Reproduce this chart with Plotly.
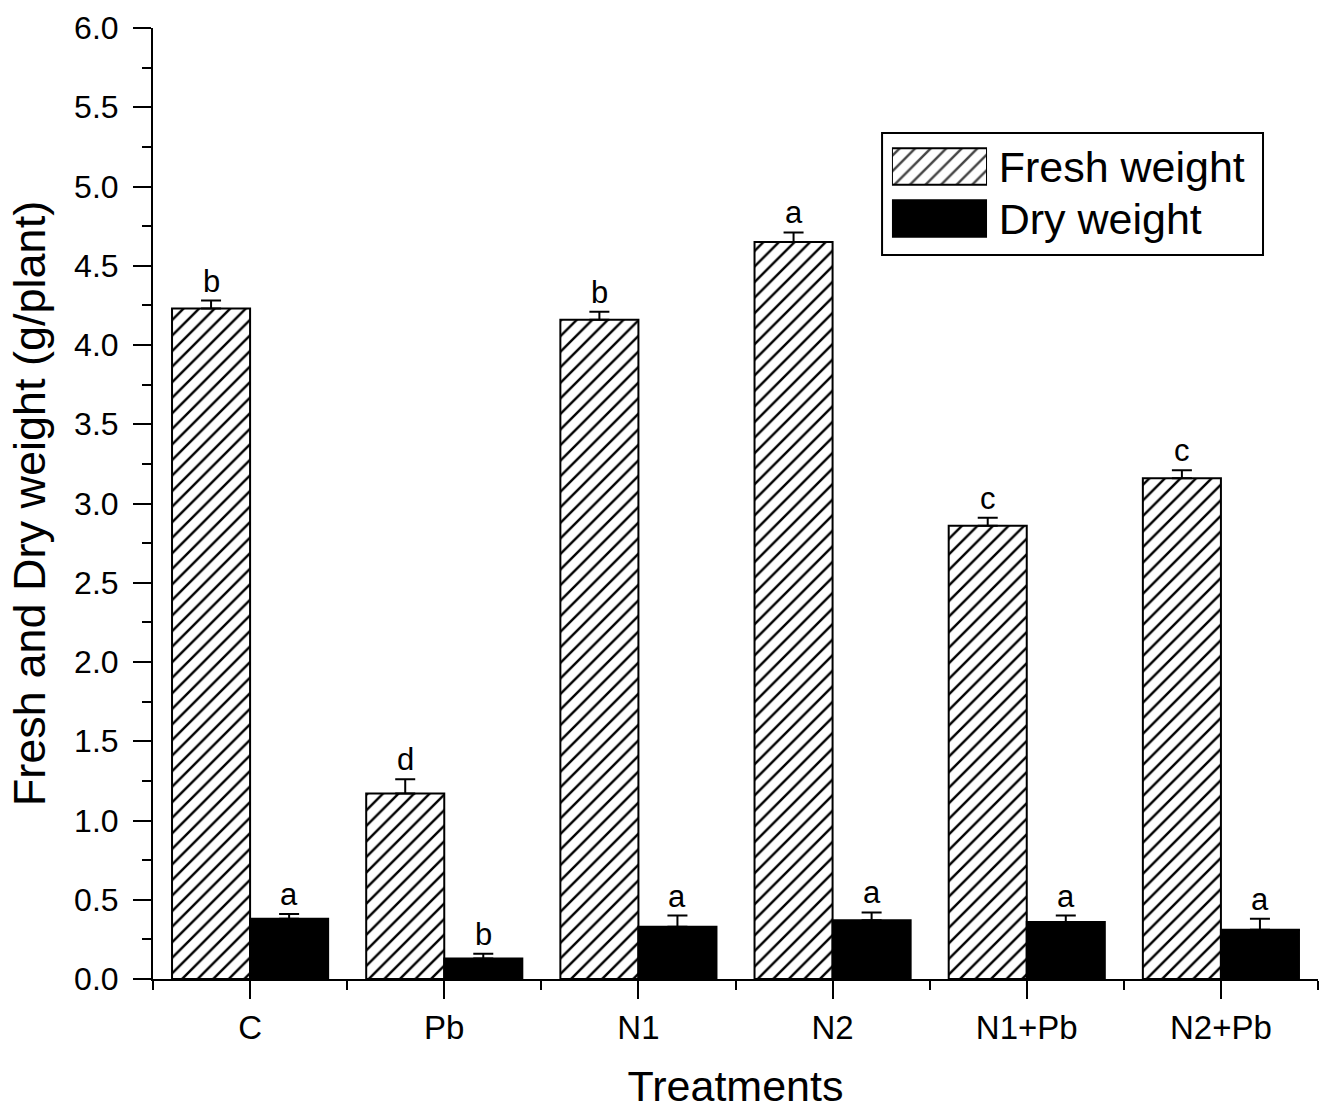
import plotly.graph_objects as go

# ---- data ----
categories = ["C", "Pb", "N1", "N2", "N1+Pb", "N2+Pb"]
fresh_weight = [4.23, 1.17, 4.16, 4.65, 2.86, 3.16]
fresh_err = [0.05, 0.09, 0.05, 0.06, 0.05, 0.05]
dry_weight = [0.38, 0.13, 0.33, 0.37, 0.36, 0.31]
dry_err = [0.03, 0.03, 0.07, 0.05, 0.04, 0.07]
fresh_letters = ["b", "d", "b", "a", "c", "c"]
dry_letters = ["a", "b", "a", "a", "a", "a"]
series_names = ["Fresh weight", "Dry weight"]
y_ticks = [0.0, 0.5, 1.0, 1.5, 2.0, 2.5, 3.0, 3.5, 4.0, 4.5, 5.0, 5.5, 6.0]

FONT = "Liberation Sans, Arial, sans-serif"
BARGAP = 0.196
xpos = list(range(len(categories)))
half = (1 - BARGAP) / 4  # offset of each bar centre within group

HATCH = dict(shape="/", fgcolor="black", bgcolor="white", size=11,
             solidity=0.22, fgopacity=1)

fig = go.Figure()
fig.add_trace(go.Bar(
    x=xpos, y=fresh_weight, name=series_names[0],
    marker=dict(color="white", line=dict(color="black", width=2), pattern=HATCH),
    error_y=dict(type="data", array=fresh_err, symmetric=False,
                 arrayminus=[0] * len(fresh_err), color="black",
                 thickness=2, width=10),
    showlegend=False,
))
fig.add_trace(go.Bar(
    x=xpos, y=dry_weight, name=series_names[1],
    marker=dict(color="black", line=dict(color="black", width=2)),
    error_y=dict(type="data", array=dry_err, symmetric=False,
                 arrayminus=[0] * len(dry_err), color="black",
                 thickness=2, width=10),
    showlegend=False,
))

# significance letters
for i, c in enumerate(categories):
    fig.add_annotation(x=xpos[i] - half, y=fresh_weight[i] + fresh_err[i],
                       text=fresh_letters[i], showarrow=False, yanchor="bottom",
                       yshift=0, font=dict(size=31, color="black", family=FONT))
    fig.add_annotation(x=xpos[i] + half, y=dry_weight[i] + dry_err[i],
                       text=dry_letters[i], showarrow=False, yanchor="bottom",
                       yshift=0, font=dict(size=31, color="black", family=FONT))

# custom legend as a mini bar chart (big swatches like the original)
fig.add_trace(go.Bar(
    y=series_names, x=[1, 1], orientation="h", xaxis="x2", yaxis="y2",
    width=0.7, text=["\u2009" + s for s in series_names], textposition="outside",
    cliponaxis=False, constraintext="none", textangle=0,
    textfont=dict(size=43, color="black", family=FONT),
    marker=dict(color=["white", "black"], line=dict(color="black", width=2),
                pattern=dict(shape=["/", ""], fgcolor="black", bgcolor="white",
                             size=11, solidity=0.22, fgopacity=1)),
    showlegend=False, hoverinfo="skip",
))

fig.add_shape(type="rect", xref="paper", yref="paper",
              x0=0.6258, x1=0.9528, y0=0.7613, y1=0.8896,
              line=dict(color="black", width=2), fillcolor="rgba(0,0,0,0)")

fig.update_layout(
    width=1330, height=1110,
    margin=dict(l=153, r=12, t=28, b=131),
    paper_bgcolor="white", plot_bgcolor="white",
    barmode="group", bargap=BARGAP, bargroupgap=0,
    font=dict(family=FONT, color="black"),
    xaxis=dict(
        range=[-0.5, 5.5], tickmode="array", tickvals=xpos, ticktext=categories,
        ticks="outside", ticklen=18, tickwidth=2, tickcolor="black",
        showline=True, linecolor="black", linewidth=2, showgrid=False,
        zeroline=False, tickfont=dict(size=33, family=FONT),
        minor=dict(tickmode="linear", tick0=0.5, dtick=1, ticks="outside",
                   ticklen=9, tickwidth=2, tickcolor="black", showgrid=False),
        title=dict(text="Treatments", font=dict(size=43, family=FONT), standoff=28),
        automargin=False,
    ),
    yaxis=dict(
        range=[0, 6.0], tickmode="array", tickvals=y_ticks,
        tickformat=".1f", ticks="outside", ticklen=18, tickwidth=2,
        tickcolor="black", showline=True, linecolor="black", linewidth=2,
        showgrid=False, zeroline=False, tickfont=dict(size=32, family=FONT),
        ticklabelstandoff=8,
        minor=dict(tickmode="linear", tick0=0, dtick=0.25, ticks="outside",
                   ticklen=9, tickwidth=2, tickcolor="black", showgrid=False),
        title=dict(text="Fresh and Dry weight (g/plant)",
                   font=dict(size=45, family=FONT), standoff=14),
        automargin=False,
    ),
    xaxis2=dict(domain=[0.6343, 0.7159], range=[0, 1], anchor="y2",
                visible=False, fixedrange=True),
    yaxis2=dict(domain=[0.7723, 0.8817], range=[1.5, -0.5], anchor="x2",
                visible=False, fixedrange=True, type="category"),
)

fig.write_html("out.html")
